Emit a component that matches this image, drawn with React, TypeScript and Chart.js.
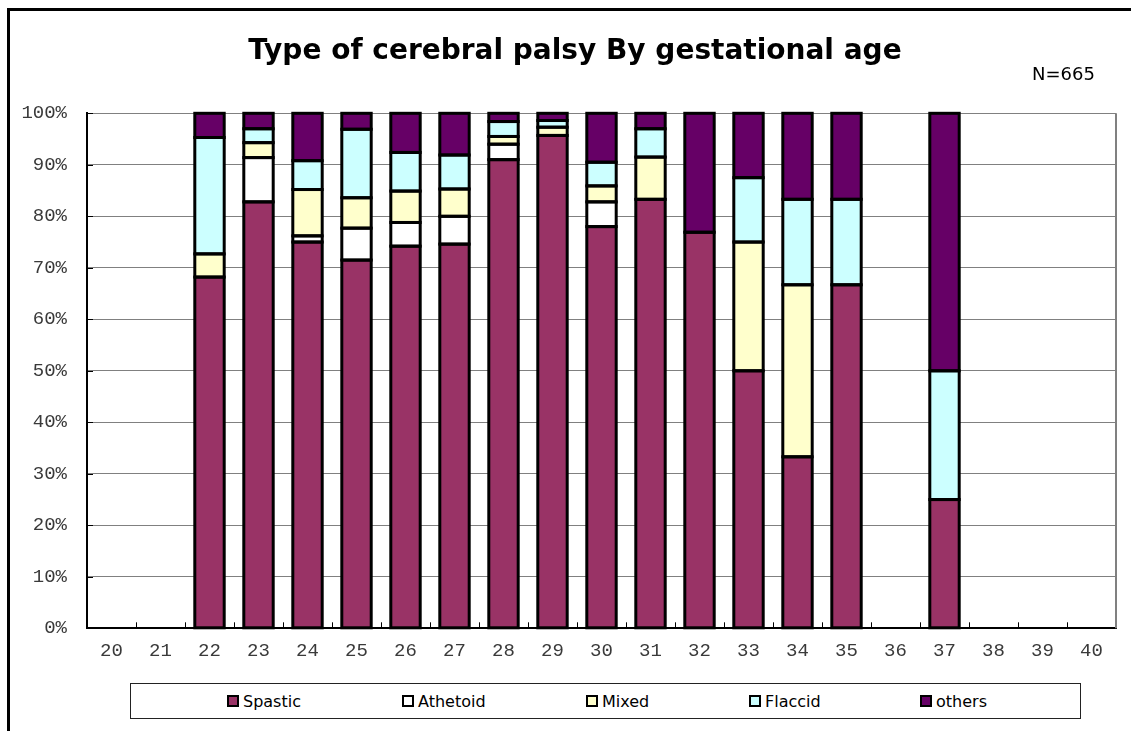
import React, { useEffect, useRef } from "react";
import { Chart, registerables } from "chart.js";

Chart.register(...registerables);

const categories = ["20","21","22","23","24","25","26","27","28","29","30","31","32","33","34","35","36","37","38","39","40"];
const spastic = [null,null,68.2,82.8,75.0,71.5,74.2,74.6,91.0,95.7,78.0,83.3,76.9,50.0,33.3,66.7,null,25.0,null,null,null];
const athetoid = [null,null,null,8.6,1.2,6.2,4.6,5.4,3.0,null,4.8,null,null,null,null,null,null,null,null,null,null];
const mixed = [null,null,4.5,2.9,9.0,5.9,6.1,5.3,1.5,1.6,3.1,8.2,null,25.0,33.4,null,null,null,null,null,null];
const flaccid = [null,null,22.6,2.7,5.6,13.3,7.5,6.6,2.9,1.3,4.6,5.5,null,12.5,16.6,16.6,null,25.0,null,null,null];
const others = [null,null,4.7,3.0,9.2,3.1,7.6,8.1,1.6,1.4,9.5,3.0,23.1,12.5,16.7,16.7,null,50.0,null,null,null];
const yTicks = [0,10,20,30,40,50,60,70,80,90,100];

const seriesNames = ["Spastic","Athetoid","Mixed","Flaccid","others"];
const seriesColors = ["#993366","#FFFFFF","#FFFFCC","#CCFFFF","#660066"];
const seriesData = [spastic, athetoid, mixed, flaccid, others];

const legendX = [227, 402, 586, 749, 920];

const barOutline = {
  id: "barOutline",
  afterDatasetsDraw(chart: any) {
    const { ctx } = chart;
    ctx.save();
    ctx.strokeStyle = "#000";
    ctx.lineWidth = 3;
    chart.data.datasets.forEach((ds: any, di: number) => {
      const meta = chart.getDatasetMeta(di);
      meta.data.forEach((el: any, i: number) => {
        if (ds.data[i] == null) return;
        const { x, y, base, width } = el.getProps(["x", "y", "base", "width"], true);
        const top = Math.min(y, base);
        const h = Math.abs(base - y);
        ctx.strokeRect(x - width / 2, top, width, h);
      });
    });
    ctx.restore();
  },
};

const frameTicks = {
  id: "frameTicks",
  afterDraw(chart: any) {
    const { ctx, chartArea } = chart;
    const xs = chart.scales.x;
    const ys = chart.scales.y;
    ctx.save();
    ctx.strokeStyle = "#808080";
    ctx.lineWidth = 2;
    ctx.beginPath();
    ctx.moveTo(chartArea.right, chartArea.top);
    ctx.lineTo(chartArea.right, chartArea.bottom);
    ctx.stroke();
    ctx.strokeStyle = "#000";
    ctx.lineWidth = 1;
    const n = categories.length;
    const w = (xs.right - xs.left) / n;
    ctx.beginPath();
    for (let i = 1; i < n; i++) {
      const x = Math.round(xs.left + i * w) + 0.5;
      ctx.moveTo(x, chartArea.bottom);
      ctx.lineTo(x, chartArea.bottom - 6);
    }
    for (const v of yTicks) {
      const y = Math.round(ys.getPixelForValue(v)) + 0.5;
      ctx.moveTo(chartArea.left, y);
      ctx.lineTo(chartArea.left + 6, y);
    }
    ctx.stroke();
    ctx.restore();
  },
};

export default function App() {
  const ref = useRef<HTMLCanvasElement>(null);
  useEffect(() => {
    if (!ref.current) return;
    const chart = new Chart(ref.current, {
      type: "bar",
      data: {
        labels: categories,
        datasets: seriesNames.map((name, i) => ({
          label: name,
          data: seriesData[i],
          backgroundColor: seriesColors[i],
          borderWidth: 0,
          inflateAmount: 0,
          barPercentage: 0.6,
          categoryPercentage: 1,
        })),
      },
      options: {
        responsive: false,
        animation: false,
        devicePixelRatio: 1,
        layout: { padding: { left: 0, top: 105.3, right: 7, bottom: 54.7 } },
        plugins: {
          legend: { display: false },
          title: { display: false },
          tooltip: { enabled: false },
        },
        scales: {
          x: {
            stacked: true,
            grid: { display: false, drawTicks: false },
            border: { display: true, color: "#000", width: 2 },
            ticks: {
              color: "#3a3a3a",
              font: { family: "'Liberation Mono', monospace", size: 19 },
              padding: 11,
              maxRotation: 0,
              autoSkip: false,
            },
            afterFit: (s: any) => { s.height = 40; },
          },
          y: {
            stacked: true,
            min: 0,
            max: 100,
            grid: { color: "#808080", lineWidth: 1, drawTicks: false },
            border: { display: true, color: "#000", width: 2 },
            ticks: {
              stepSize: 10,
              color: "#3a3a3a",
              font: { family: "'Liberation Mono', monospace", size: 19 },
              padding: 20,
              callback: (v: any) => v + "%",
            },
            afterFit: (s: any) => { s.width = 79; },
          },
        },
      },
      plugins: [barOutline, frameTicks],
    } as any);
    return () => chart.destroy();
  }, []);

  return (
    <div style={{ position: "relative", width: 1115, height: 715, overflow: "hidden", background: "#fff" }}>
      <canvas ref={ref} width={1115} height={715} style={{ position: "absolute", left: 0, top: 0, width: 1115, height: 715 }} />
      <div style={{ position: "fixed", left: 7, top: 8, width: 1200, height: 800, borderTop: "3px solid #000", borderLeft: "3px solid #000", pointerEvents: "none" }} />
      <div style={{ position: "absolute", left: 0, width: 1134, top: 24.6, textAlign: "center", fontFamily: "'DejaVu Sans', sans-serif", fontWeight: "bold", fontSize: 28, lineHeight: "34px", color: "#000", whiteSpace: "nowrap" }}>
        Type of cerebral palsy By gestational age
      </div>
      <div style={{ position: "absolute", left: 1024, top: 55, fontFamily: "'DejaVu Sans', sans-serif", fontSize: 18, color: "#000", whiteSpace: "nowrap" }}>
        N=665
      </div>
      <div style={{ position: "absolute", left: 122, top: 675, width: 951, height: 36, boxSizing: "border-box", border: "1px solid #222", background: "#fff" }} />
      {seriesNames.map((name, i) => (
        <div key={name} style={{ position: "absolute", left: legendX[i] - 8, top: 683, display: "flex", alignItems: "center", height: 20, fontFamily: "'DejaVu Sans', sans-serif", fontSize: 16, color: "#000", whiteSpace: "nowrap" }}>
          <span style={{ display: "inline-block", width: 12, height: 12, boxSizing: "border-box", border: "2px solid #000", background: seriesColors[i], marginRight: 4 }} />
          {name}
        </div>
      ))}
    </div>
  );
}
